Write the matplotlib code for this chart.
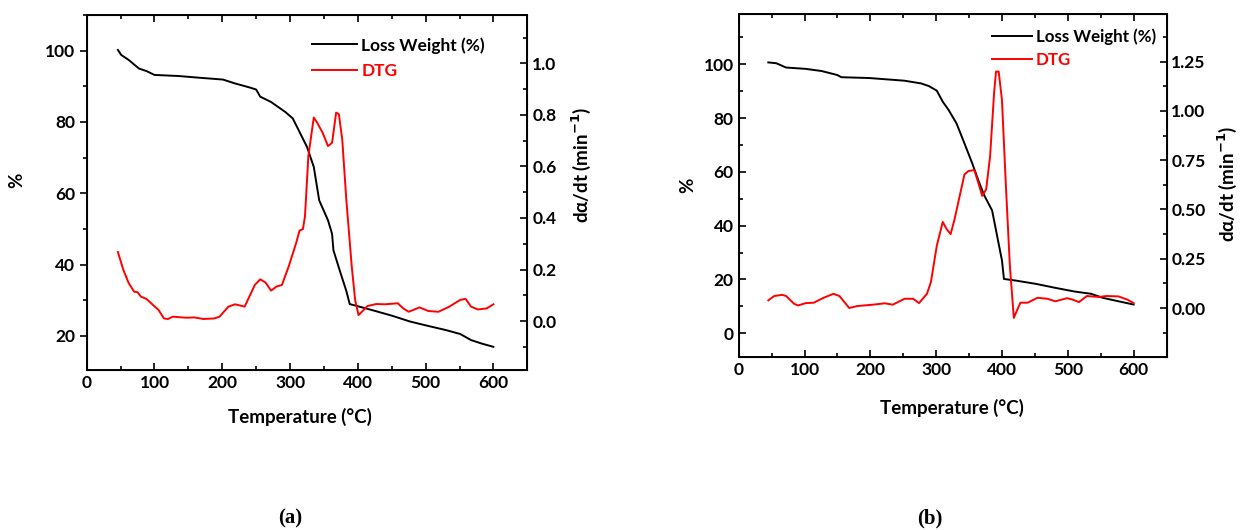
import matplotlib.pyplot as plt
from matplotlib.ticker import MultipleLocator

plt.rcParams['font.family'] = ['Lato', 'DejaVu Sans']
plt.rcParams['font.weight'] = 'bold'
plt.rcParams['axes.labelweight'] = 'bold'

# (a) TGA / DTG
temp_a_tg = [46, 51, 62, 77, 88, 100, 135, 167, 201, 219, 240, 250, 256, 272, 293, 304,
             314, 325, 335, 343, 356, 362, 364, 375, 383, 388, 398, 425, 451, 477, 503,
             530, 551, 567, 583, 600]
weight_a = [100.2, 98.8, 97.4, 95.0, 94.3, 93.2, 92.9, 92.4, 91.9, 90.8, 89.7, 89.1, 87.1,
            85.6, 82.8, 81.0, 77.2, 73.0, 67.4, 58.0, 52.4, 48.6, 44.0, 37.3, 32.6, 28.9,
            28.4, 27.0, 25.6, 24.0, 22.8, 21.6, 20.5, 18.8, 17.8, 16.9]
temp_a_dtg = [46, 54, 62, 70, 75, 80, 88, 98, 106, 114, 120, 127, 146, 159, 172, 188, 196,
              209, 219, 233, 240, 248, 256, 264, 272, 280, 288, 298, 309, 314, 319, 322,
              327, 335, 340, 348, 356, 362, 368, 372, 377, 383, 391, 396, 401, 406, 414,
              427, 440, 459, 467, 475, 491, 504, 519, 535, 551, 559, 567, 577, 590, 600]
dtg_a = [0.268, 0.199, 0.147, 0.114, 0.112, 0.095, 0.086, 0.062, 0.043, 0.010, 0.008,
         0.017, 0.013, 0.014, 0.008, 0.010, 0.017, 0.056, 0.065, 0.056, 0.095, 0.140,
         0.162, 0.149, 0.118, 0.134, 0.140, 0.212, 0.303, 0.351, 0.357, 0.406, 0.640,
         0.790, 0.770, 0.731, 0.679, 0.692, 0.809, 0.803, 0.705, 0.471, 0.212, 0.082,
         0.023, 0.036, 0.058, 0.066, 0.065, 0.069, 0.049, 0.036, 0.053, 0.039, 0.036,
         0.056, 0.082, 0.086, 0.056, 0.045, 0.049, 0.065]

# (b) TGA / DTG
temp_b_tg = [45, 57, 72, 102, 126, 150, 156, 198, 252, 277, 289, 301, 310, 319, 331, 343,
             355, 364, 373, 385, 394, 400, 403, 421, 451, 481, 511, 535, 553, 577, 600]
weight_b = [100.7, 100.4, 98.8, 98.3, 97.5, 96.0, 95.2, 94.9, 93.9, 92.9, 91.9, 90.2, 86.1,
            83.0, 78.0, 70.6, 63.1, 56.9, 51.3, 45.7, 34.5, 27.1, 20.2, 19.6, 18.4, 16.9,
            15.5, 14.7, 13.2, 11.9, 10.7]
temp_b_dtg = [45, 54, 66, 72, 84, 90, 102, 114, 129, 144, 153, 168, 180, 204, 222, 234,
              252, 265, 274, 286, 292, 301, 310, 316, 322, 328, 343, 349, 358, 364, 370,
              376, 382, 388, 391, 395, 400, 406, 412, 418, 424, 428, 439, 454, 469, 481,
              499, 508, 517, 529, 547, 559, 577, 591, 600]
dtg_b = [0.039, 0.061, 0.067, 0.061, 0.022, 0.013, 0.025, 0.027, 0.052, 0.072, 0.061,
         0.000, 0.010, 0.017, 0.024, 0.017, 0.047, 0.047, 0.025, 0.072, 0.131, 0.316,
         0.437, 0.400, 0.375, 0.451, 0.678, 0.695, 0.700, 0.636, 0.569, 0.602, 0.771,
         1.090, 1.200, 1.200, 1.056, 0.619, 0.215, -0.050, -0.003, 0.027, 0.027, 0.052,
         0.047, 0.034, 0.050, 0.042, 0.030, 0.061, 0.056, 0.061, 0.059, 0.042, 0.025]

W, H = 1240, 530


def px(x, y):
    # pixel position -> figure fraction
    return x / W, 1 - y / H


def style_axis(ax, left_dir='in'):
    ax.tick_params(which='both', labelsize=12.5, width=1.2)
    ax.tick_params(which='major', length=5)
    ax.tick_params(which='minor', length=3)
    ax.tick_params(axis='x', which='both', direction='in', top=True)
    ax.tick_params(axis='y', which='both', direction=left_dir)
    for s in ax.spines.values():
        s.set_linewidth(1.4)


def draw_panel(box, t_tg, w, t_dtg, d, ylim, yticks, y2lim, y2major, y2minor,
               y2fmt, left_dir, leg_xy, leg_len, leg_space, leg_size):
    x0, y0, x1, y1 = box
    ax = fig.add_axes([x0 / W, 1 - y1 / H, (x1 - x0) / W, (y1 - y0) / H])
    ax2 = ax.twinx()
    l1, = ax.plot(t_tg, w, color='black', lw=1.4)
    l2, = ax2.plot(t_dtg, d, color='red', lw=1.4)

    ax.set_xlim(0, 650)
    ax.set_ylim(*ylim)
    ax.xaxis.set_major_locator(MultipleLocator(100))
    ax.xaxis.set_minor_locator(MultipleLocator(50))
    ax.set_yticks(yticks)
    ax.yaxis.set_minor_locator(MultipleLocator(10))
    style_axis(ax, left_dir)

    ax2.set_ylim(*y2lim)
    ax2.yaxis.set_major_locator(MultipleLocator(y2major))
    ax2.yaxis.set_minor_locator(MultipleLocator(y2minor))
    ax2.yaxis.set_major_formatter(y2fmt)
    ax2.tick_params(axis='y', which='both', direction='in', labelsize=12.5, width=1.2)
    ax2.tick_params(which='major', length=5)
    ax2.tick_params(which='minor', length=3)

    lx, ly = leg_xy
    ax.legend([l1, l2], ['Loss Weight (%)', 'DTG'], loc='upper left',
              bbox_to_anchor=((lx - x0) / (x1 - x0), (y1 - ly) / (y1 - y0)),
              frameon=False, labelcolor=['black', 'red'], borderpad=0,
              borderaxespad=0, handlelength=leg_len, handletextpad=0.25,
              labelspacing=leg_space, prop={'weight': 'bold', 'size': leg_size})
    return ax


fig = plt.figure(figsize=(12.4, 5.3), dpi=100)

draw_panel((86.7, 14.7, 527.3, 370), temp_a_tg, weight_a, temp_a_dtg, dtg_a,
           (10.4, 110.1), [20, 40, 60, 80, 100], (-0.19, 1.189), 0.2, 0.1, '{x:.1f}',
           'out', (312, 37), 2.6, 0.52, 12.5)
draw_panel((738.7, 14, 1166.5, 356.7), temp_b_tg, weight_b, temp_b_dtg, dtg_b,
           (-8.7, 118.7), [0, 20, 40, 60, 80, 100], (-0.247, 1.492), 0.25, 0.125,
           '{x:.2f}', 'in', (992, 28), 2.35, 0.42, 12.2)

label_kw = dict(fontsize=13.5, fontweight='bold', ha='center', va='center')
fig.text(*px(300, 417), 'Temperature (°C)', **label_kw)
fig.text(*px(952, 408), 'Temperature (°C)', **label_kw)
fig.text(*px(16.5, 180), '%', rotation=90, **label_kw)
fig.text(*px(688, 185), '%', rotation=90, **label_kw)
fig.text(*px(581, 165), 'dα/dt (min$^{-1}$)', rotation=90, **label_kw)
fig.text(*px(1227, 184), 'dα/dt (min$^{-1}$)', rotation=90, **label_kw)

fig.text(*px(290, 518), '(a)', fontsize=15, family='Liberation Serif',
         fontweight='bold', ha='center', va='center')
fig.text(*px(930, 518), '(b)', fontsize=15, family='Liberation Serif',
         fontweight='bold', ha='center', va='center')

fig.savefig('out.png', dpi=100)
